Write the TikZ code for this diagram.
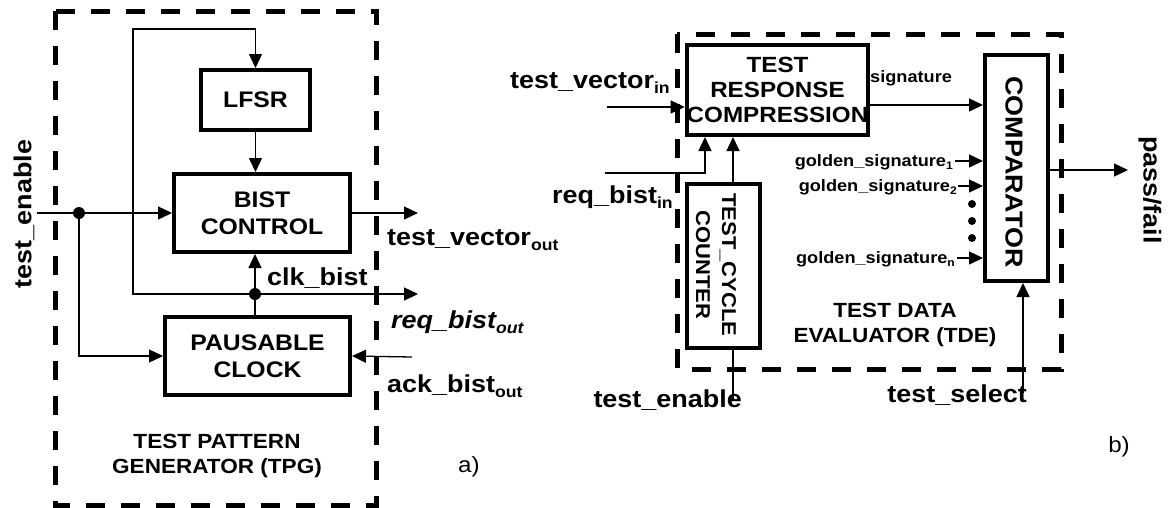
\documentclass[tikz,border=0pt]{standalone}
\usepackage{fontspec}
\setmainfont{Liberation Sans}[FakeStretch=1.1]
\usetikzlibrary{arrows.meta}
\newcommand{\lsb}[1]{\raisebox{-0.22em}{\fontsize{16}{16}\selectfont #1}}
\newcommand{\ssb}[1]{\raisebox{-0.22em}{\fontsize{11}{11}\selectfont #1}}
\begin{document}
\begin{tikzpicture}[x=1pt,y=-1pt,
  blk/.style={draw, line width=4pt, inner sep=0pt, font=\fontsize{22.5}{27}\selectfont\bfseries, align=center},
  wire/.style={line width=1.3pt},
  arr/.style={wire, -{Triangle[length=14pt,width=13pt]}},
  lbl/.style={inner sep=0pt, font=\fontsize{24.5}{28}\selectfont\bfseries},
  slbl/.style={inner sep=0pt, font=\fontsize{16.5}{20}\selectfont\bfseries},
  capt/.style={inner sep=0pt, font=\fontsize{20.5}{25}\selectfont\bfseries, align=center},
  dbox/.style={line width=5pt, dash pattern=on 19pt off 16pt},
  jdot/.style={circle, fill, inner sep=0pt, minimum size=12pt},
  edot/.style={circle, fill, inner sep=0pt, minimum size=8pt},
]
\useasboundingbox (0,0) rectangle (1168,507);

% ---------- panel a ----------
\draw[dbox] (55,11) rectangle (376,505);
\node[blk, minimum width=109pt, minimum height=60pt] (lfsr) at (255.5,100) {LFSR};
\node[blk, minimum width=176pt, minimum height=78pt] (bist) at (262,213) {BIST\\CONTROL};
\node[blk, minimum width=185pt, minimum height=78pt] (pc) at (257.5,356) {PAUSABLE\\CLOCK};

\coordinate (jclkc) at (255,294);
\node[jdot] (jclk) at (jclkc) {};
\coordinate (jtec) at (79,213);
\node[jdot] (jte) at (jtec) {};
\coordinate (teIn) at (37,213);
\coordinate (fbL) at (133,29);
\coordinate (reqOut) at (418,294);
\coordinate (tvOut) at (418,213);
\coordinate (ackIn) at (412,357);

\draw[arr] (jclkc) -| (fbL) -| (lfsr.north);
\draw[arr] (lfsr.south) -- (lfsr.south |- bist.north);
\draw[arr] (jclkc) -- (jclkc |- bist.south);
\draw[wire] (jclkc |- pc.north) -- (jclkc);
\draw[arr] (jclkc) -- (reqOut);
\draw[arr] (teIn) -- (bist.west);
\draw[arr] (jtec) |- (pc.west);
\draw[arr] (bist.east) -- (tvOut);
\draw[arr] (ackIn) -- (pc.east);

\node[lbl, rotate=90] (teL) at (24,214) {test\_enable};
\node[lbl, anchor=base west] (clkL) at (267,285) {clk\_bist};
\node[lbl, anchor=base west] (tvoL) at (387,245) {test\_vector\lsb{out}};
\node[lbl, anchor=base west] (rqoL) at (391,328) {\itshape req\_bist\lsb{out}};
\node[lbl, anchor=base west] (ackL) at (387,392) {ack\_bist\lsb{out}};
\node[capt] (tpg) at (217,456) {TEST PATTERN\\GENERATOR (TPG)};
\node[inner sep=0pt, font=\fontsize{22}{26}\selectfont] (la) at (469,467) {a)};

% ---------- panel b ----------
\draw[dbox] (677,34) rectangle (1061,369);
\node[blk, minimum width=175pt, minimum height=90pt, font=\fontsize{22}{25}\selectfont\bfseries] (trc) at (777.5,90) {TEST\\RESPONSE\\COMPRESSION};
\node[blk, minimum width=73pt, minimum height=164pt] (cnt) at (723.5,266) {};
\node[inner sep=0pt, rotate=-90, align=center, font=\fontsize{20}{26}\selectfont\bfseries] (cntT) at (716,265) {TEST\_CYCLE\\COUNTER};
\node[blk, minimum width=63pt, minimum height=226pt] (cmp) at (1016.5,168) {};
\node[inner sep=0pt, rotate=-90, font=\fontsize{24.5}{28}\selectfont\bfseries] (cmpT) at (1014,172) {COMPARATOR};

\coordinate (tviIn) at (607,107);
\coordinate (rqiIn) at (605,173);
\coordinate (rqx) at (705,0);
\coordinate (cx) at (733,0);
\coordinate (teBot) at (733,400);
\coordinate (sigy) at (0,105);
\coordinate (g1) at (955,161);
\coordinate (g2) at (958,186);
\coordinate (gn) at (957,258);
\coordinate (pfy) at (0,170);
\coordinate (pfEnd) at (1128,170);
\coordinate (tsIn) at (1023,393);

\draw[arr] (tviIn) -- (trc.west |- tviIn);
\draw[arr] (rqiIn) -| (trc.south -| rqx);
\draw[arr] (cnt.north -| cx) -- (trc.south -| cx);
\draw[wire] (cnt.south -| cx) -- (teBot);
\draw[arr] (trc.east |- sigy) -- (cmp.west |- sigy);
\draw[arr] (g1) -- (cmp.west |- g1);
\draw[arr] (g2) -- (cmp.west |- g2);
\draw[arr] (gn) -- (cmp.west |- gn);
\draw[arr] (cmp.east |- pfy) -- (pfEnd);
\draw[arr] (tsIn) -- (tsIn |- cmp.south);
\node[edot] (d1) at (972,204) {};
\node[edot] (d2) at (972,221) {};
\node[edot] (d3) at (972,238) {};

\node[lbl, anchor=base west] (tviL) at (510,88) {test\_vector\lsb{in}};
\node[lbl, anchor=base west] (rqiL) at (552,203) {req\_bist\lsb{in}};
\node[lbl, anchor=base east] (teR) at (742,407) {test\_enable};
\node[lbl, anchor=base east] (tsL) at (1027,402) {test\_select};
\node[slbl, anchor=base west] (sigL) at (870,82) {signature};
\node[slbl, anchor=base east] (g1L) at (953,166) {golden\_signature\ssb{1}};
\node[slbl, anchor=base east] (g2L) at (957,191) {golden\_signature\ssb{2}};
\node[slbl, anchor=base east] (gnL) at (955,263) {golden\_signature\ssb{n}};
\node[lbl, rotate=-90] (pfL) at (1150,190) {pass/fail};
\node[capt] (tde) at (895,325) {TEST DATA\\EVALUATOR (TDE)};
\node[inner sep=0pt, font=\fontsize{22}{26}\selectfont] (lb) at (1119,447) {b)};
\end{tikzpicture}
\end{document}
